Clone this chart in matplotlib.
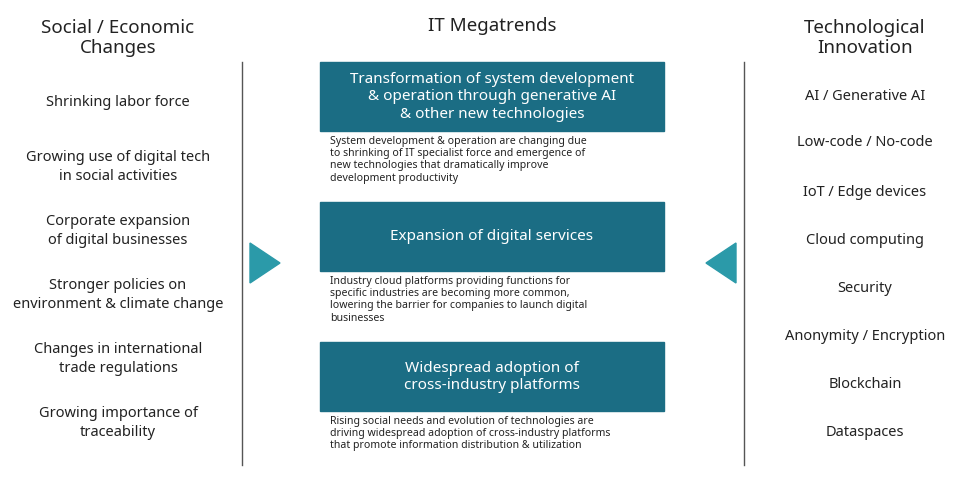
import matplotlib
matplotlib.use("Agg")
import matplotlib.pyplot as plt
from matplotlib.patches import Rectangle, Polygon

left_title = "Social / Economic\nChanges"
left_items = ["Shrinking labor force",
              "Growing use of digital tech\nin social activities",
              "Corporate expansion\nof digital businesses",
              "Stronger policies on\nenvironment & climate change",
              "Changes in international\ntrade regulations",
              "Growing importance of\ntraceability"]
left_y = [103, 167, 231, 295, 359, 423]

mid_title = "IT Megatrends"
mid_boxes = ["Transformation of system development\n& operation through generative AI\n& other new technologies",
             "Expansion of digital services",
             "Widespread adoption of\ncross-industry platforms"]
mid_desc = ["System development & operation are changing due\nto shrinking of IT specialist force and emergence of\nnew technologies that dramatically improve\ndevelopment productivity",
            "Industry cloud platforms providing functions for\nspecific industries are becoming more common,\nlowering the barrier for companies to launch digital\nbusinesses",
            "Rising social needs and evolution of technologies are\ndriving widespread adoption of cross-industry platforms\nthat promote information distribution & utilization"]
box_top = [62, 202, 342]

right_title = "Technological\nInnovation"
right_items = ["AI / Generative AI", "Low-code / No-code", "IoT / Edge devices",
               "Cloud computing", "Security", "Anonymity / Encryption",
               "Blockchain", "Dataspaces"]
right_y = [96, 143, 192, 240, 288, 336, 384, 432]

FONT = "Noto Sans"
box_col = "#1b6d84"
tri_col = "#2b9aa9"
txt = "#222222"

fig = plt.figure(figsize=(9.6, 4.8), dpi=100)
ax = fig.add_axes([0, 0, 1, 1])
ax.set_xlim(0, 960); ax.set_ylim(480, 0); ax.axis("off")

ax.text(118, 38, left_title, ha="center", va="center", fontsize=13.5, family=FONT, color=txt, linespacing=1.15)
ax.text(492, 26, mid_title, ha="center", va="center", fontsize=13.5, family=FONT, color=txt)
ax.text(865, 38, right_title, ha="center", va="center", fontsize=13.5, family=FONT, color=txt, linespacing=1.15)

for s, y in zip(left_items, left_y):
    ax.text(118, y, s, ha="center", va="center", fontsize=10.5, family=FONT, color=txt, linespacing=1.3)
for s, y in zip(right_items, right_y):
    ax.text(865, y, s, ha="center", va="center", fontsize=10.5, family=FONT, color=txt)

ax.plot([242, 242], [62, 465], color="#555555", lw=1)
ax.plot([744, 744], [62, 465], color="#555555", lw=1)

ax.add_patch(Polygon([[250, 243], [280, 263], [250, 283]], closed=True, color=tri_col))
ax.add_patch(Polygon([[736, 243], [706, 263], [736, 283]], closed=True, color=tri_col))

for t, s, d in zip(box_top, mid_boxes, mid_desc):
    ax.add_patch(Rectangle((320, t), 344, 69, color=box_col))
    ax.text(492, t + 35, s, ha="center", va="center", fontsize=11, family=FONT,
            color="white", fontweight="bold", linespacing=1.2)
    ax.text(330, t + 74, d, ha="left", va="top", fontsize=7.6, family=FONT,
            color=txt, fontweight="bold", linespacing=1.15)

fig.savefig("out.png", dpi=100)
